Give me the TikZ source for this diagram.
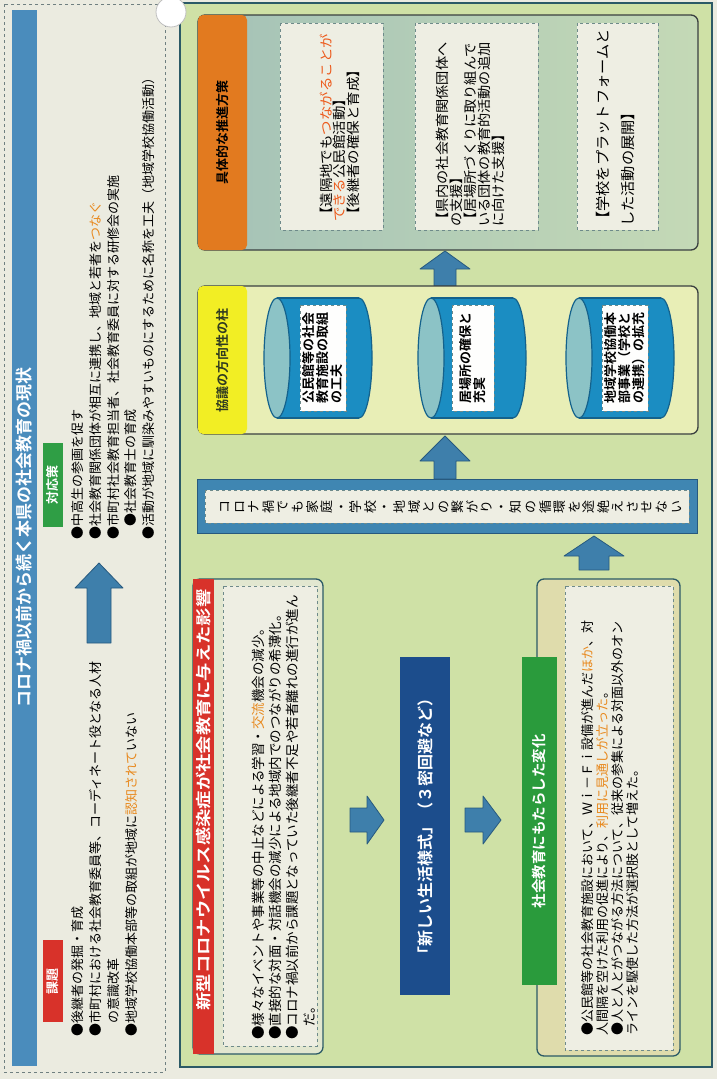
\documentclass[tikz,border=0pt]{standalone}
\usepackage{fontspec}
\setmainfont{Noto Sans CJK JP}[BoldFont={* Bold}]
\usetikzlibrary{shadings}
\definecolor{pagebg}{HTML}{EBEBE0}
\definecolor{leftdash}{HTML}{6F7F80}
\definecolor{titlebar}{HTML}{4A8CBC}
\definecolor{greenlab}{HTML}{2F9E45}
\definecolor{redlab}{HTML}{D8322A}
\definecolor{rightbg}{HTML}{CFE1A6}
\definecolor{frame}{HTML}{2C5A66}
\definecolor{boxline}{HTML}{3A4040}
\definecolor{topL}{HTML}{A4C2B7}
\definecolor{topR}{HTML}{C4D9B6}
\definecolor{orangelab}{HTML}{E27A1F}
\definecolor{yellowlab}{HTML}{F2EE24}
\definecolor{pillfill}{HTML}{E8EEB6}
\definecolor{cylblue}{HTML}{1B8DC2}
\definecolor{cyldark}{HTML}{14628C}
\definecolor{cylface}{HTML}{8CC3C6}
\definecolor{innerfill}{HTML}{EEEEE3}
\definecolor{innerdash}{HTML}{6E8A8A}
\definecolor{arrowfill}{HTML}{3E7FAB}
\definecolor{arrowdraw}{HTML}{27597E}
\definecolor{bandfill}{HTML}{3F86B2}
\definecolor{navy}{HTML}{1C4D8C}
\definecolor{greenbox}{HTML}{2A9B3C}
\definecolor{lboxfill}{HTML}{E2E7D0}
\definecolor{rboxfill}{HTML}{DFDCAC}
\definecolor{otext}{HTML}{E8891E}
\definecolor{rtext}{HTML}{EC5A1C}
\definecolor{pilltext}{HTML}{2F3A20}
\makeatletter
\def\vst#1{\vbox{\baselineskip=14.56pt\lineskiplimit=-100pt\lineskip=0pt\vst@#1\vst@end}}
\def\vst@end{\vst@end}
\def\vst@#1{\ifx#1\vst@end\else\hbox to 14pt{\hss#1\hss}\expandafter\vst@\fi}
\makeatother
\begin{document}
\begin{tikzpicture}[x=1pt,y=-1pt,
  jt/.style={rotate=90,inner sep=0pt,align=left},
  dbox/.style={fill=innerfill,draw=innerdash,dashed,line width=0.8pt},
  blk/.style={fill=arrowfill,draw=arrowdraw,line width=0.8pt,line join=round},
  lab/.style={rotate=90,inner sep=0pt,font=\bfseries\fontsize{13}{15}\selectfont}]
\useasboundingbox (0,0) rectangle (717,1079);
\fill[pagebg] (0,0) rectangle (717,1079);

% ---------------- left panel ----------------
\draw[leftdash,dashed,line width=0.8pt] (4,4) rectangle (165,1072);
\fill[titlebar] (12,10) rectangle (37,1066);
\node[jt,font=\bfseries\fontsize{17}{20}\selectfont,text=white] (title) at (24.5,537)
  {コロナ禍以前から続く本県の社会教育の現状};

\node[lab,fill=greenlab,text=white,minimum width=84pt,minimum height=20pt] (taio) at (53,485) {対応策};
\node[jt,anchor=north west,font=\fontsize{13}{17.75}\selectfont] (taiotext) at (71.5,540)
  {●中高生の参画を促す\\
   ●社会教育関係団体が相互に連携し、地域と若者を\textcolor{otext}{つなぐ}\\
   ●市町村社会教育担当者、社会教育委員に対する研修会の実施\\
   　●社会教育士の育成\\
   ●活動が地域に馴染みやすいものにするために名称を工夫（地域学校協働活動）};

\draw[blk] (99,563) -- (123,588) -- (111,588) -- (111,643) -- (87,643) -- (87,588) -- (75,588) -- cycle;

\node[lab,fill=redlab,text=white,minimum width=82pt,minimum height=20pt] (kadai) at (53,981) {課題};
\node[jt,anchor=north west,font=\fontsize{13}{18}\selectfont] (kadaitext) at (71.5,1037)
  {●後継者の発掘・育成\\
   ●市町村における社会教育委員等、コーディネート役となる人材\\
   　の意識改革\\
   ●地域学校協働本部等の取組が地域に\textcolor{otext}{認知されて}いない};

% ---------------- right panel ----------------
\filldraw[fill=rightbg,draw=frame,line width=1.5pt] (180,3) rectangle (712,1067);

% top box
\shade[left color=topL,right color=topR,rounded corners=7pt] (198,15) rectangle (698,250);
\draw[boxline,line width=1.3pt,rounded corners=7pt] (198,15) rectangle (698,250);
\node[lab,fill=orangelab,rounded corners=5pt,minimum width=235pt,minimum height=49pt] (plan) at (222.5,132.5) {具体的な推進方策};

\draw[dbox] (280,23) rectangle (383,230);
\draw[dbox] (415,23) rectangle (538,230);
\draw[dbox] (577,23) rectangle (658,230);
\node[jt,anchor=north west,xscale=1.07,font=\fontsize{13.5}{13.5}\selectfont] (p1) at (319.5,222)
  {【遠隔地でも\textcolor{rtext}{つながることが}\\
   \textcolor{rtext}{できる}公民館活動】\\
   【後継者の確保と育成】};
\node[jt,anchor=north west,xscale=1.05,font=\fontsize{13.5}{14}\selectfont] (p2) at (436.3,227)
  {【県内の社会教育関係団体へ\\
   の支援】\\
   【居場所づくりに取り組んで\\
   いる団体の教育的活動の追加\\
   に向けた支援】};
\node[jt,anchor=north west,xscale=1.05,font=\fontsize{14.5}{25}\selectfont] (p3) at (596,227)
  {【学校をプラットフォームと\\
   した活動の展開】};

\draw[blk] (445,251) -- (470,269) -- (456,269) -- (456,286) -- (434,286) -- (434,269) -- (420,269) -- cycle;

% pillars box
\fill[pillfill,rounded corners=7pt] (198,286) rectangle (698,434);
\draw[boxline,line width=1.3pt,rounded corners=7pt] (198,286) rectangle (698,434);
\node[lab,fill=yellowlab,text=pilltext,rounded corners=5pt,minimum width=148pt,minimum height=49pt] (pillar) at (222.5,360) {協議の方向性の柱};

% cylinders
\foreach \xl/\rl/\rr in {264/300/346, 418/452/494, 566/602/648}{
  \pgfmathsetmacro{\xa}{\xl+13}
  \pgfmathsetmacro{\xb}{\xl+95}
  \filldraw[fill=cylblue,draw=cyldark,line width=1.2pt] (\xb,358) ellipse[x radius=13pt,y radius=60pt];
  \fill[cylblue] (\xa,298) rectangle (\xb,418);
  \draw[cyldark,line width=1.2pt] (\xa,298) -- (\xb,298) (\xa,418) -- (\xb,418);
  \filldraw[fill=cylface,draw=cyldark,line width=1.2pt] (\xa,358) ellipse[x radius=13pt,y radius=60pt];
  \draw[dbox,fill=white!92!innerfill] (\rl,305) rectangle (\rr,411);
}
\node[jt,font=\bfseries\fontsize{13}{14}\selectfont] (c1) at (323,358)
  {公民館等の社会\\教育施設の取組\\の工夫};
\node[jt,font=\bfseries\fontsize{13}{14}\selectfont] (c2) at (473,358)
  {居場所の確保と\\充実};
\node[jt,font=\bfseries\fontsize{13}{14}\selectfont] (c3) at (625,358)
  {地域学校協働本\\部事業（学校と\\の連携）の拡充};

\draw[blk] (445,436) -- (470,461) -- (456,461) -- (456,479) -- (434,479) -- (434,461) -- (420,461) -- cycle;

% band
\filldraw[fill=bandfill,draw=arrowdraw,line width=1pt] (197,479) rectangle (697,533);
\draw[dbox] (205,490) rectangle (689,523);
\node[rotate=90,inner sep=0pt,font=\fontsize{13}{14.56}\selectfont] (bandtext) at (451,506.5)
  {\vst{コロナ禍でも家庭・学校・地域との繋がり・知の循環を途絶えさせない}};

\draw[blk] (594,536) -- (624,556) -- (609,556) -- (609,570) -- (579,570) -- (579,556) -- (564,556) -- cycle;

% lower left box
\filldraw[fill=lboxfill,draw=frame,line width=1.3pt,rounded corners=7pt] (193,579) rectangle (323,1054);
\fill[redlab] (193,579) rectangle (214,1054);
\node[jt,xscale=1.18,font=\bfseries\fontsize{15.5}{17}\selectfont,text=white] (impact) at (203.5,800)
  {新型コロナウイルス感染症が社会教育に与えた影響};
\draw[dbox] (223,586) rectangle (317,1046);
\node[jt,anchor=north west,font=\fontsize{13.5}{16.7}\selectfont] (impacttext) at (252.3,1040)
  {●様々なイベントや事業等の中止などによる学習・\textcolor{otext}{交流}機会の減少。\\
   ●直接的な対面・対話機会の減少による地域内でのつながりの希薄化。\\
   ●コロナ禍以前から課題となっていた後継者不足や若者離れの進行が進ん\\
   　だ。};

% right arrows
\draw[blk] (384,820) -- (367,844) -- (367,832) -- (350,832) -- (350,808) -- (367,808) -- (367,796) -- cycle;
\draw[blk] (501,820) -- (483,844) -- (483,832) -- (465,832) -- (465,808) -- (483,808) -- (483,796) -- cycle;

% new lifestyle box
\node[rotate=90,fill=navy,text=white,inner sep=0pt,minimum width=338pt,minimum height=50pt,
  font=\bfseries\fontsize{16}{18}\selectfont] (life) at (425,826) {「新しい生活様式」（３密回避など）};

% lower right box
\filldraw[fill=rboxfill,draw=frame,line width=1.3pt,rounded corners=7pt] (537,579) rectangle (680,1056);
\draw[dbox] (565,586) rectangle (673,1050);
\node[rotate=90,fill=greenbox,text=white,inner sep=0pt,minimum width=328pt,minimum height=35pt,
  font=\bfseries\fontsize{14.5}{16}\selectfont] (change) at (539.5,821) {社会教育にもたらした変化};
\node[jt,anchor=north west,font=\fontsize{13}{15}\selectfont] (changetext) at (581.5,1036)
  {●公民館等の社会教育施設において、Ｗｉ－Ｆｉ設備が進んだ\textcolor{otext}{ほか}、対\\
   人間隔を空けた利用の促進により、\textcolor{otext}{利用に見通しが立った}。\\
   ●人と人とがつながる方法について、従来の参集による対面以外のオン\\
   ラインを駆使した方法が選択肢として増えた。};

% punch hole
\filldraw[fill=white,draw=black!25,line width=0.8pt] (171,12) circle[radius=15pt];
\end{tikzpicture}
\end{document}
